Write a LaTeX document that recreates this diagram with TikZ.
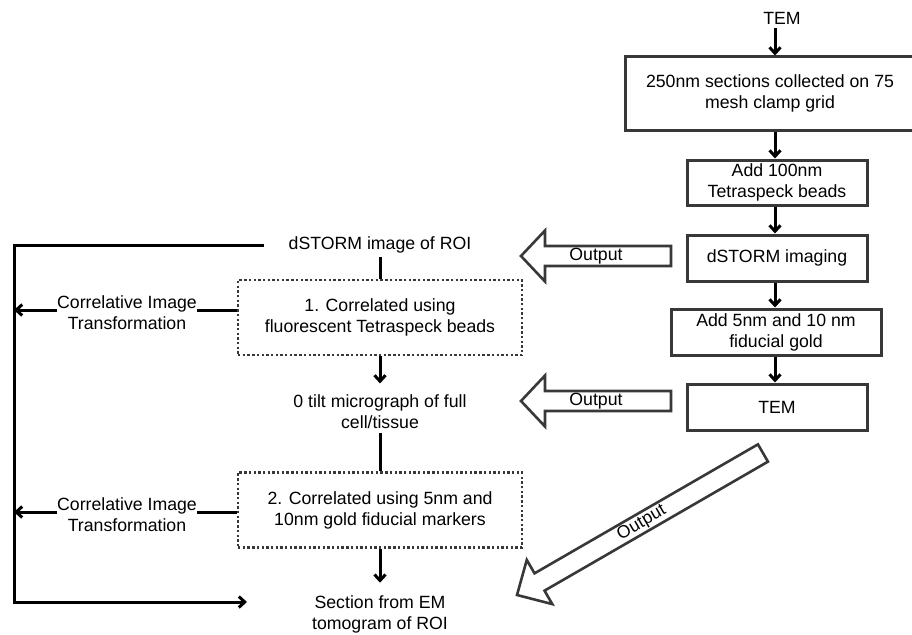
\documentclass[tikz,border=0pt]{standalone}
\usepackage{fontspec}
\setmainfont{Liberation Sans}
\usetikzlibrary{arrows.meta}
\definecolor{bordergray}{HTML}{383838}
\begin{document}
\begin{tikzpicture}[x=1pt,y=-1pt,
  every node/.style={font=\fontsize{17.7}{21}\selectfont, align=center},
  procbox/.style={draw=bordergray, line width=3pt, inner sep=0pt, minimum height=46pt},
  dotbox/.style={draw=bordergray, line width=2.6pt, dash pattern=on 2.4pt off 2.3pt, minimum width=284pt, minimum height=75pt, inner sep=0pt},
  conn/.style={line width=3pt, -{Straight Barb[length=6pt,width=11pt]}},
  lineonly/.style={line width=3pt},
  bigarrow/.style={draw=bordergray, line width=2.6pt, line join=miter, fill=white},
  corrlbl/.style={fill=white, inner xsep=0pt, inner ysep=2pt},
]
\useasboundingbox (0,0) rectangle (912,634);

% right column
\coordinate (colx) at (775,0);
\node (tem0) at (782,18) {TEM};
\node[procbox, minimum width=290pt, minimum height=73pt] (b1) at (770,93.5) {250nm sections collected on 75\\mesh clamp grid};
\node[procbox, minimum width=180pt, minimum height=45pt] (b2) at (777,182.5) {Add 100nm\\Tetraspeck beads};
\node[procbox, minimum width=180pt] (b3) at (777,258) {dSTORM imaging};
\node[procbox, minimum width=210pt] (b4) at (776,332) {Add 5nm and 10 nm\\fiducial gold};
\node[procbox, minimum width=180pt] (b5) at (777,407) {TEM};

\draw[conn] (tem0.south -| colx) -- (b1.north -| colx);
\draw[conn] (b1.south -| colx) -- (b2.north -| colx);
\draw[conn] (b2.south -| colx) -- (b3.north -| colx);
\draw[conn] (b3.south -| colx) -- (b4.north -| colx);
\draw[conn] (b4.south -| colx) -- (b5.north -| colx);

% output arrows
\begin{scope}[shift={(521,256)}]
\draw[bigarrow] (0,0) -- (24,-25.5) -- (24,-10) -- (150,-10) -- (150,10) -- (24,10) -- (24,25.5) -- cycle;
\end{scope}
\node (out1) at (596,256) {Output};
\begin{scope}[shift={(521,401)}]
\draw[bigarrow] (0,0) -- (24,-25.5) -- (24,-10) -- (150,-10) -- (150,10) -- (24,10) -- (24,25.5) -- cycle;
\end{scope}
\node (out2) at (596,401) {Output};
\begin{scope}[shift={(517,595)}, rotate=30]
\draw[bigarrow] (0,0) -- (26,-25.5) -- (26,-10) -- (284,-10) -- (284,10) -- (26,10) -- (26,25.5) -- cycle;
\node[rotate=30] (out3) at (144,0) {Output};
\end{scope}

% left column
\node (ds) at (380,245) {dSTORM image of ROI};
\node[dotbox] (d1) at (380,317.5) {1. Correlated using\\fluorescent Tetraspeck beads};
\node (tilt) at (380,412) {0 tilt micrograph of full\\cell/tissue};
\node[dotbox] (d2) at (380,510) {2. Correlated using 5nm and\\10nm gold fiducial markers};
\node (sec) at (380,614) {Section from EM\\tomogram of ROI};

\draw[lineonly] (ds.south) -- (d1.north);
\draw[conn, shorten >=8pt] (d1.south) -- (tilt.north);
\draw[lineonly] (tilt.south) -- (d2.north);
\draw[conn, shorten >=9pt] (d2.south) -- (sec.north);

% frame
\coordinate (tl) at (14,245);
\coordinate (bl) at (14,602);
\coordinate (fe) at (247,602);
\draw[conn, line join=miter] ([xshift=-21pt]ds.west) -- (tl) -- (bl) -- (fe);

\coordinate (c1y) at (0,310);
\coordinate (c2y) at (0,512);
\draw[conn] (d1.west |- c1y) -- (tl |- c1y);
\draw[conn] (d2.west |- c2y) -- (tl |- c2y);
\node[corrlbl] (c1) at (127,313) {Correlative Image\\Transformation};
\node[corrlbl] (c2) at (127,515) {Correlative Image\\Transformation};
\end{tikzpicture}
\end{document}
